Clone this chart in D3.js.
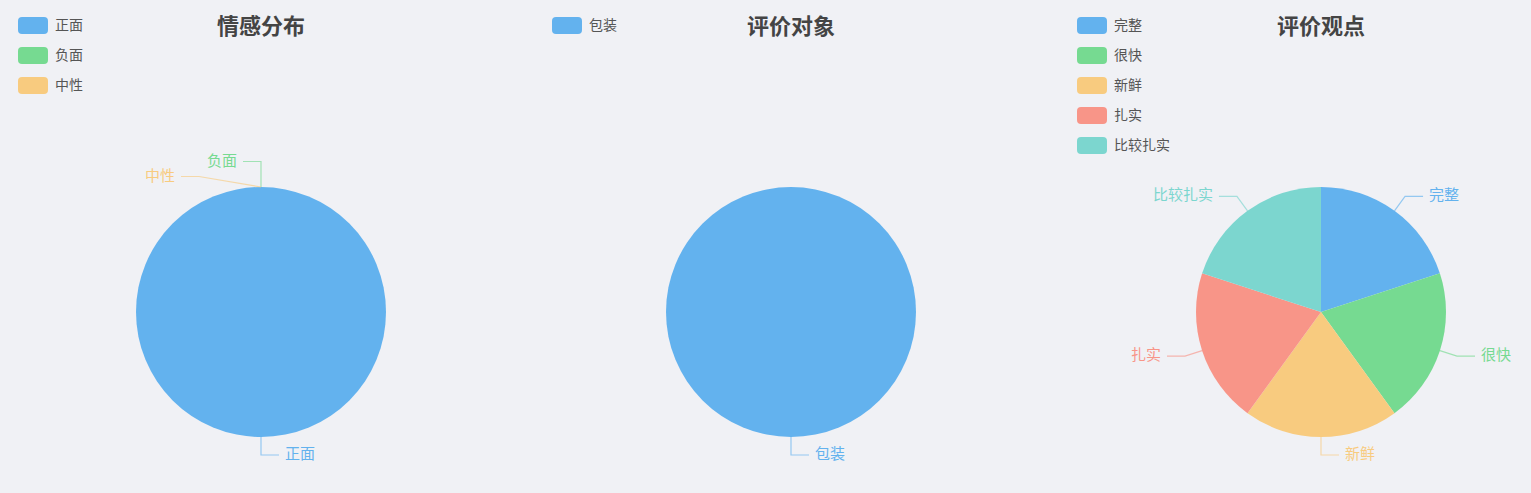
<!DOCTYPE html>
<html><head><meta charset="utf-8">
<script src="https://cdn.jsdelivr.net/npm/d3@7"></script>
<style>
html,body{margin:0;padding:0;background:#f0f1f5;}
svg{display:block;font-family:"Noto Sans CJK SC","Noto Sans",sans-serif;}
</style></head>
<body>
<svg id="chart" width="1531" height="493"></svg>
<script>
// ---- data ----
const titles = ["情感分布", "评价对象", "评价观点"];
const sentimentCats = ["正面", "负面", "中性"];
const sentimentVals = [1, 0, 0];
const objectCats = ["包装"];
const objectVals = [1];
const opinionCats = ["完整", "很快", "新鲜", "扎实", "比较扎实"];
const opinionVals = [1, 1, 1, 1, 1];
const palette = ["#63b2ee", "#76da91", "#f8cb7f", "#f89588", "#7cd6cf"];

const panels = [
  {cats: sentimentCats, vals: sentimentVals, cx: 261, legendX: 18},
  {cats: objectCats, vals: objectVals, cx: 791, legendX: 552},
  {cats: opinionCats, vals: opinionVals, cx: 1321, legendX: 1077}
];

const svg = d3.select("#chart");
const cy = 312, r = 125, len1 = 18, len2 = 18, gap = 6, lineH = 15;

panels.forEach((p, pi) => {
  const g = svg.append("g");
  // title
  g.append("text").attr("x", p.cx).attr("y", 28)
    .attr("text-anchor", "middle").attr("dominant-baseline", "middle")
    .attr("font-size", 22).attr("font-weight", "bold").attr("fill", "#444")
    .text(titles[pi]);
  // legend
  const lg = g.selectAll("g.leg").data(p.cats).join("g")
    .attr("transform", (d, i) => `translate(${p.legendX},${17 + i * 30})`);
  lg.append("rect").attr("width", 30).attr("height", 17).attr("rx", 4)
    .attr("fill", (d, i) => palette[i]);
  lg.append("text").attr("x", 37).attr("y", 9).attr("dominant-baseline", "middle")
    .attr("font-size", 14).attr("fill", "#555").text(d => d);

  const data = p.cats.map((c, i) => ({name: c, value: p.vals[i], color: palette[i]}));
  const pie = d3.pie().sort(null).value(d => d.value);
  const arcs = pie(data);
  const arc = d3.arc().innerRadius(0).outerRadius(r);
  const pg = g.append("g").attr("transform", `translate(${p.cx},${cy})`);
  pg.selectAll("path").data(arcs).join("path")
    .attr("d", arc).attr("fill", d => d.data.color);

  // label layout
  const labels = arcs.map(a => {
    const mid = (a.startAngle + a.endAngle) / 2;
    const s = Math.sin(mid), c = -Math.cos(mid);
    const side = s > 1e-9 ? 1 : (s < -1e-9 ? -1 : (mid > Math.PI ? -1 : 1));
    const x0 = s * r, y0 = c * r;
    const x1 = s * (r + len1), y1 = c * (r + len1);
    return {a, mid, side, x0, y0, x1, y1, y: y1, name: a.data.name, color: a.data.color};
  });
  labels.forEach(l => { if (l.a.startAngle === l.a.endAngle) l.side = -1; });
  [-1, 1].forEach(side => {
    const ls = labels.filter(l => l.side === side);
    const groups = [];
    ls.forEach(l => {
      const gpp = groups.find(gr => Math.abs(gr[0].y1 - l.y1) < lineH);
      if (gpp) gpp.push(l); else groups.push([l]);
    });
    groups.forEach(gr => {
      if (gr.length < 2) return;
      const center = d3.mean(gr, l => l.y1);
      gr.forEach((l, i) => {
        l.y = center + (i - (gr.length - 1) / 2) * lineH;
        if (Math.abs(l.y) < Math.abs(l.y1)) {
          const R = r + len1 + 6;
          const dy = Math.min(Math.abs(l.y), R);
          l.x1 = side * Math.sqrt(R * R - dy * dy);
        }
      });
    });
  });
  labels.forEach(l => {
    const x2 = l.x1 + l.side * len2;
    pg.append("polyline")
      .attr("points", `${l.x0},${l.y0} ${l.x1},${l.y} ${x2},${l.y}`)
      .attr("fill", "none").attr("stroke", l.color).attr("stroke-width", 1.2).attr("opacity", 0.65);
    pg.append("text").attr("x", x2 + l.side * gap).attr("y", l.y)
      .attr("text-anchor", l.side > 0 ? "start" : "end")
      .attr("dominant-baseline", "middle").attr("font-size", 15)
      .attr("fill", l.color).text(l.name);
  });
});
</script>
</body></html>
